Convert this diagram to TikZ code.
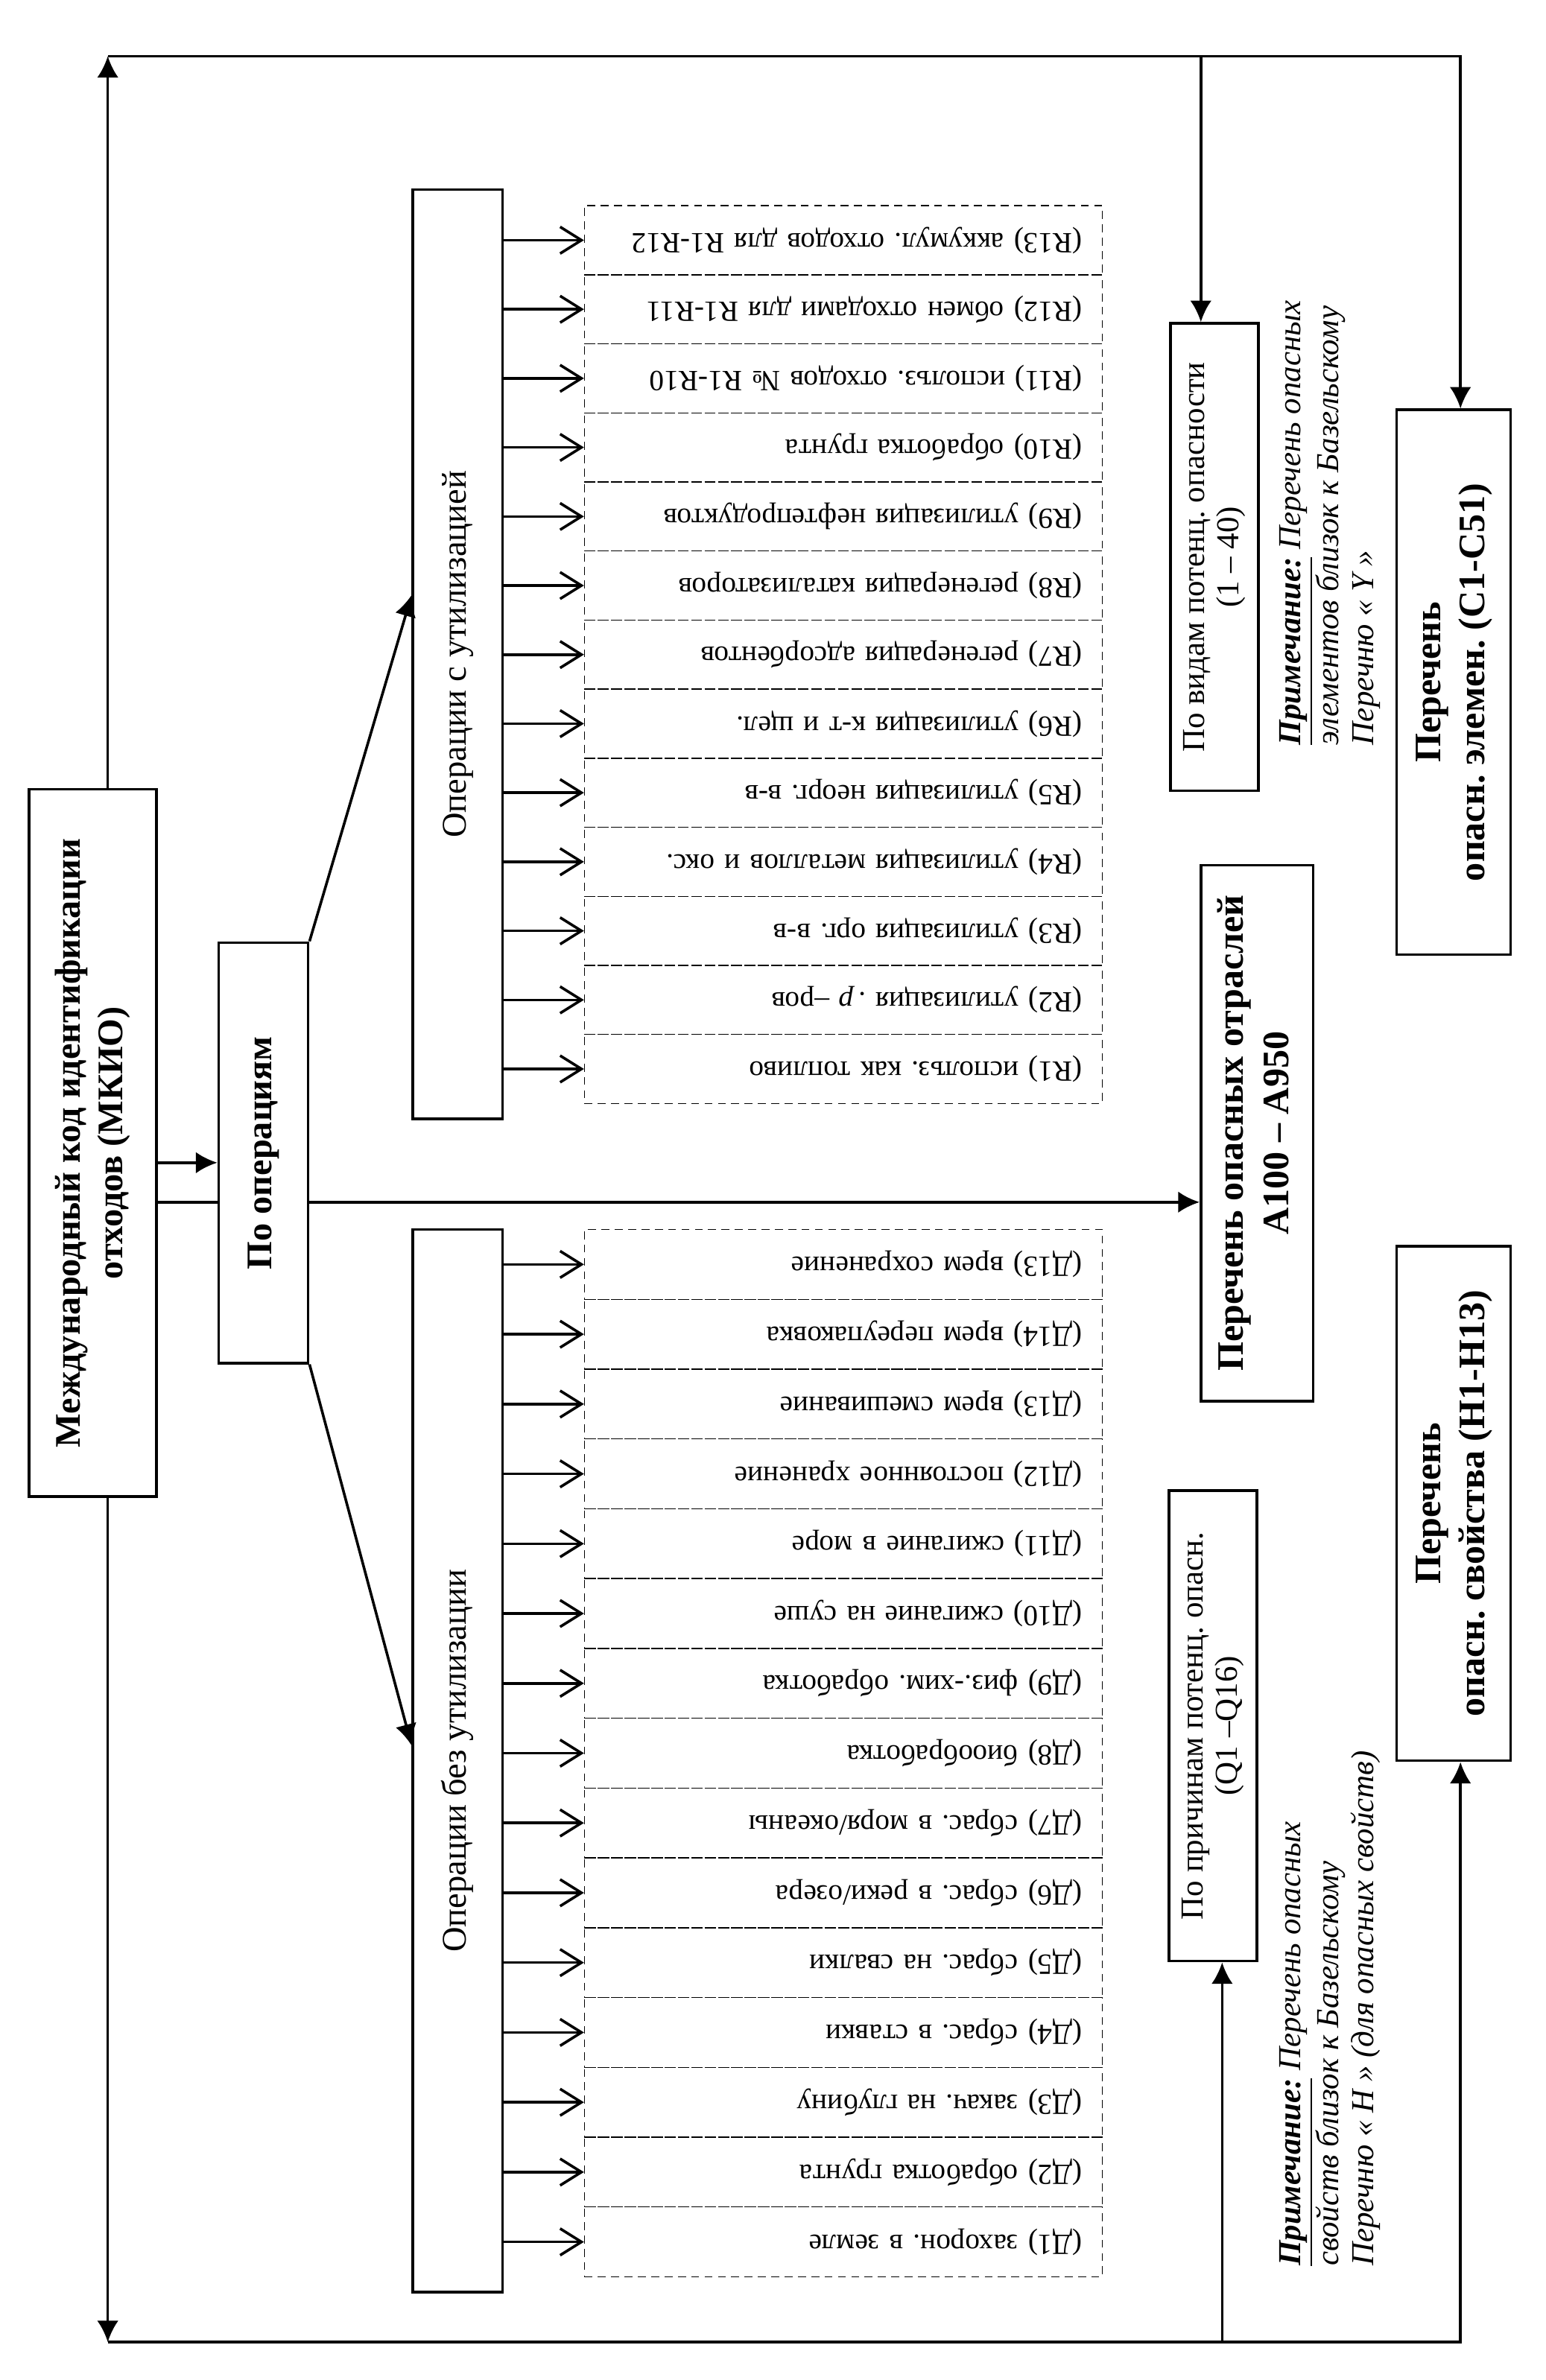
\documentclass[tikz,border=0pt]{standalone}
\usepackage{fontspec}
\setmainfont{Liberation Serif}
\usetikzlibrary{arrows.meta}
\frenchspacing
\newcommand{\px}{0.02cm}
\newcommand{\vlabel}[1]{\rotatebox{90}{\begin{tabular}{@{}c@{}}#1\end{tabular}}}

\begin{document}
\begin{tikzpicture}[x=0.02cm, y=-0.02cm,
    box/.style={draw, line width=1pt, inner sep=0pt},
    item/.style={draw, densely dashed, line width=0.4pt, minimum width=341*\px,
      inner sep=0pt, text width=315*\px, align=right, font=\fontsize{11}{13}\selectfont},
    link/.style={line width=1pt, -{Latex[length=8pt,width=8pt]}},
    feed/.style={line width=1pt, -{Straight Barb[length=8pt,width=10pt]}},
    note/.style={rotate=90, anchor=west, align=left, font=\fontsize{12}{13}\selectfont\itshape}]
    \useasboundingbox (0,0) rectangle (1018,1568);

    % Main boxes
    \node (main) at (61,753) [box, minimum width=84*\px, minimum height=466*\px,
      font=\fontsize{13.5}{16}\selectfont\bfseries] {\vlabel{Международный код идентификации\\отходов (МКИО)}};
    \node (oper) at (173.5,759.5) [box, minimum width=59*\px, minimum height=277*\px,
      font=\fontsize{13.5}{16}\selectfont\bfseries] {\vlabel{По операциям}};
    \node (util) at (301.5,431) [box, minimum width=59*\px, minimum height=612*\px,
      font=\fontsize{13}{15}\selectfont] {\vlabel{Операции с утилизацией}};
    \node (nutil) at (301.5,1160) [box, minimum width=59*\px, minimum height=700*\px,
      font=\fontsize{13}{15}\selectfont] {\vlabel{Операции без утилизации}};

    % Right column
    \node (vidy) at (800,367) [box, minimum width=58*\px, minimum height=308*\px,
      font=\fontsize{12}{13}\selectfont] {\vlabel{По видам потенц. опасности\\(1 – 40)}};
    \node (otrasli) at (828,746.5) [box, minimum width=74*\px, minimum height=353*\px,
      font=\fontsize{14}{17}\selectfont\bfseries] {\vlabel{Перечень опасных отраслей\\A100 – A950}};
    \node (prichiny) at (799,1137) [box, minimum width=58*\px, minimum height=310*\px,
      font=\fontsize{12}{13}\selectfont] {\vlabel{По причинам потенц. опасн.\\(Q1 –Q16)}};
    \node (elem) at (957.5,449.5) [box, minimum width=75*\px, minimum height=359*\px,
      font=\fontsize{14}{16.5}\selectfont\bfseries] {\vlabel{Перечень\\опасн. элемен. (C1-C51)}};
    \node (svoistva) at (957.5,990.5) [box, minimum width=75*\px, minimum height=339*\px,
      font=\fontsize{14}{16.5}\selectfont\bfseries] {\vlabel{Перечень\\опасн. свойства (H1-H13)}};

    % Notes
    \node (note1) at (876,497) [note] {\underline{\textbf{Примечание:}} Перечень опасных\\элементов близок к Базельскому\\Перечню « Y »};
    \node (note2) at (876,1499) [note] {\underline{\textbf{Примечание:}} Перечень опасных\\свойств близок к Базельскому\\Перечню « Н » (для опасных свойств)};

    % Operations with recovery (R13 ... R1)
    \foreach \t [count=\i] in {{(R13) аккумул. отходов для R1-R12}, {(R12) обмен отходами для R1-R11},
        {(R11) исполъз. отходов № R1-R10}, {(R10) обработка грунта}, {(R9) утилизация нефтепродуктов},
        {(R8) регенерация катализаторов}, {(R7) регенерация адсорбентов}, {(R6) утилизация к-т и щел.},
        {(R5) утилизация неорг. в-в}, {(R4) утилизация металлов и окс.}, {(R3) утилизация орг. в-в},
        {(R2) утилизация .\,\textit{р}~–ров}, {(R1) исполъз. как топливо}}
      \node (rrow\i) at (555.5,{135.5+45.5*(\i-0.5)}) [item, minimum height=45.5*\px] {\rotatebox{180}{\t}};

    % Operations without recovery (Д15 ... Д1)
    \foreach \t [count=\i] in {{(Д13) врем сохранение}, {(Д14) врем переупаковка}, {(Д13) врем смешивание},
        {(Д12) постоянное хранение}, {(Д11) сжигание в море}, {(Д10) сжигание на суше},
        {(Д9) физ.-хим. обработка}, {(Д8) биообработка}, {(Д7) сбрас. в моря/океаны},
        {(Д6) сбрас. в реки/озера}, {(Д5) сбрас. на свалки}, {(Д4) сбрас. в ставки},
        {(Д3) закач. на глубину}, {(Д2) обработка грунта}, {(Д1) захорон. в земле}}
      \node (drow\i) at (555.5,{810+46*(\i-0.5)}) [item, minimum height=46*\px] {\rotatebox{180}{\t}};

    % Arrows into the lists
    \foreach \i in {1,...,13}
      \draw[feed] (util.east |- rrow\i.west) -- (rrow\i.west);
    \foreach \i in {1,...,15}
      \draw[feed] (nutil.east |- drow\i.west) -- (drow\i.west);

    % Helper points
    \coordinate (tl) at (71,37);
    \coordinate (tr) at (962,37);
    \coordinate (bl) at (71,1543);
    \coordinate (br) at (962,1543);
    \coordinate (vt) at (791,37);
    \coordinate (pb) at (805,1543);
    \coordinate (arr) at (0,766);
    \coordinate (mid) at (0,792);
    \coordinate (utip) at (0,392);
    \coordinate (ntip) at (0,1150);

    % Frame
    \draw[link] (tl |- main.north) -- (tl);
    \draw[link] (tl) -- (tr) -- (tr |- elem.north);
    \draw[link] (vt) -- (vt |- vidy.north);
    \draw[link] (bl |- main.south) -- (bl);
    \draw[link] (bl) -- (br) -- (br |- svoistva.south);
    \draw[link] (pb) -- (pb |- prichiny.south);

    % Main flow
    \draw[link] (main.east |- arr) -- (oper.west |- arr);
    \draw[line width=1pt] (main.east |- mid) -- (oper.west |- mid);
    \draw[link] (oper.east |- mid) -- (otrasli.west |- mid);
    \draw[link] (oper.north east) -- (util.west |- utip);
    \draw[link] (oper.south east) -- (nutil.west |- ntip);
\end{tikzpicture}
\end{document}
